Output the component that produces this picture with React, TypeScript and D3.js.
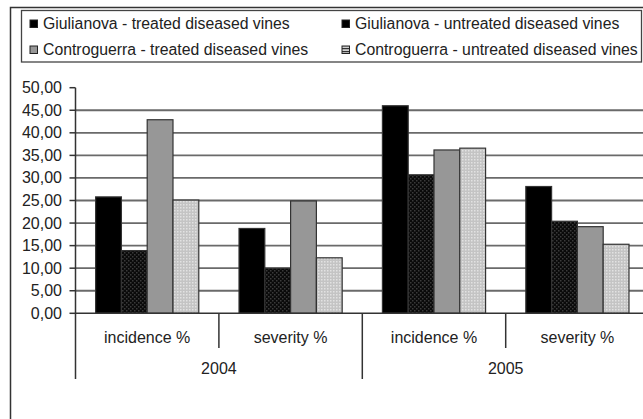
import React from "react";
import * as d3 from "d3";

const years = ["2004", "2005"];
const measures = ["incidence %", "severity %"];
const series = [
  "Giulianova - treated diseased vines",
  "Giulianova - untreated diseased vines",
  "Controguerra - treated diseased vines",
  "Controguerra - untreated diseased vines",
];
// values per category (2004 incidence, 2004 severity, 2005 incidence, 2005 severity)
const giulianovaTreated = [25.8, 18.8, 46.0, 28.1];
const giulianovaUntreated = [13.9, 10.0, 30.7, 20.4];
const controguerraTreated = [42.9, 24.9, 36.2, 19.2];
const controguerraUntreated = [25.1, 12.3, 36.6, 15.3];
const yTicks = [0, 5, 10, 15, 20, 25, 30, 35, 40, 45, 50];

const W = 643;
const H = 419;
const FONT = "'Liberation Sans', Arial, sans-serif";
const TEXT = "#222";

export default function App() {
  const categories = years.flatMap((yr) => measures.map((m) => `${yr}|${m}`));
  const values = [giulianovaTreated, giulianovaUntreated, controguerraTreated, controguerraUntreated];
  const fills = ["#000000", "url(#patDark)", "#979797", "url(#patLight)"];

  const left = 75.5;
  const right = left + 4 * 143.4;
  const x0 = d3.scaleBand<string>().domain(categories).range([left, right]).paddingInner(0).paddingOuter(0);
  const x1 = d3.scaleBand<string>().domain(series).range([0, x0.bandwidth()]).paddingInner(0).paddingOuter(0.78);
  const y = d3.scaleLinear().domain([0, 50]).range([313.3, 87.7]);
  const fmt = (v: number) => d3.format(".2f")(v).replace(".", ",");

  const yearX = d3.scaleBand<string>().domain(years).range([left, right]);

  return (
    <svg width={W} height={H} style={{ position: "absolute", left: 0, top: 0, background: "#fff" }} fontFamily={FONT}>
      <defs>
        <pattern id="patDark" width="4" height="4" patternUnits="userSpaceOnUse">
          <rect width="4" height="4" fill="#0a0a0a" />
          <rect x="0" y="0" width="1.5" height="1.5" fill="#3a3a3a" />
          <rect x="2" y="2" width="1.5" height="1.5" fill="#3a3a3a" />
        </pattern>
        <pattern id="patLight" width="3" height="3" patternUnits="userSpaceOnUse">
          <rect width="3" height="3" fill="#c4c4c4" />
          <rect x="0" y="0" width="1.5" height="1.5" fill="#e2e2e2" />
        </pattern>
        <pattern id="patLeg" width="3" height="3" patternUnits="userSpaceOnUse">
          <rect width="3" height="3" fill="#cfcfcf" />
          <rect y="0" width="3" height="1.2" fill="#333" />
        </pattern>
      </defs>
      <rect x={0} y={0} width={W} height={H} fill="#fff" />
      {/* outer frame */}
      <rect x={10.5} y={7.5} width={W} height={H} fill="none" stroke="#333" strokeWidth={1.5} />

      {/* legend */}
      <rect x={21.5} y={10.5} width={620} height={51.5} fill="#fff" stroke="#444" strokeWidth={1.3} />
      {series.map((s, i) => {
        const col = i % 2;
        const row = Math.floor(i / 2);
        const mx = col === 0 ? 30 : 342;
        const my = row === 0 ? 24 : 50;
        const legFill = i === 0 || i === 1 ? "#000" : i === 2 ? "#979797" : "url(#patLeg)";
        return (
          <g key={s}>
            <rect x={mx} y={my - 4} width={7.5} height={7.5} fill={legFill} stroke="#222" strokeWidth={1} />
            <text x={mx + 13} y={my + 5} fontSize={15.8} fill={TEXT}>{s}</text>
          </g>
        );
      })}

      {/* gridlines */}
      {yTicks.filter((t) => t > 0 && t < 50).map((t) => (
        <line key={t} x1={left} x2={W} y1={y(t)} y2={y(t)} stroke="#6a6a6a" strokeWidth={1.8} />
      ))}

      {/* bars */}
      {categories.map((c, ci) => (
        <g key={c}>
          {series.map((s, si) => (
            <rect
              key={s}
              x={(x0(c) ?? 0) + (x1(s) ?? 0)}
              y={y(values[si][ci])}
              width={x1.bandwidth()}
              height={y(0) - y(values[si][ci])}
              fill={fills[si]}
              stroke="#333"
              strokeWidth={1.2}
            />
          ))}
        </g>
      ))}

      {/* y axis */}
      <line x1={left} x2={left} y1={y(50)} y2={379} stroke="#333" strokeWidth={1.5} />
      {yTicks.map((t) => (
        <g key={t}>
          <line x1={left - 6} x2={left} y1={y(t)} y2={y(t)} stroke="#333" strokeWidth={1.5} />
          <text x={62} y={y(t) + 5.5} textAnchor="end" fontSize={16} fill={TEXT}>{fmt(t)}</text>
        </g>
      ))}

      {/* x axis */}
      <line x1={left} x2={W} y1={y(0)} y2={y(0)} stroke="#333" strokeWidth={1.5} />
      {categories.map((c, ci) => (
        <g key={c}>
          {ci % 2 === 1 && (
            <line x1={x0(c) ?? 0} x2={x0(c) ?? 0} y1={y(0)} y2={348} stroke="#333" strokeWidth={1.5} />
          )}
          <text x={(x0(c) ?? 0) + x0.bandwidth() / 2} y={343} textAnchor="middle" fontSize={16} fill={TEXT}>
            {c.split("|")[1]}
          </text>
        </g>
      ))}
      {years.map((yr) => (
        <g key={yr}>
          <line x1={(yearX(yr) ?? 0) + yearX.bandwidth()} x2={(yearX(yr) ?? 0) + yearX.bandwidth()} y1={y(0)} y2={379} stroke="#333" strokeWidth={1.5} />
          <text x={(yearX(yr) ?? 0) + yearX.bandwidth() / 2} y={374} textAnchor="middle" fontSize={16} fill={TEXT}>
            {yr}
          </text>
        </g>
      ))}
    </svg>
  );
}
